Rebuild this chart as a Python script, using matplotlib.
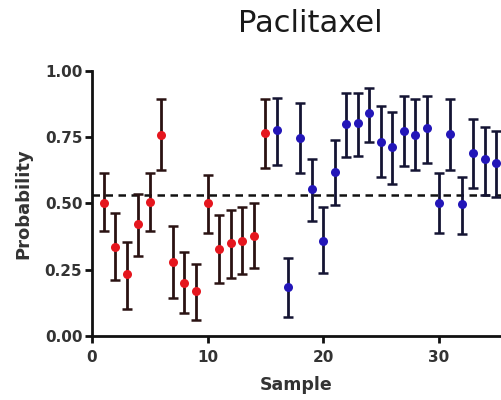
import matplotlib
matplotlib.use("Agg")
import matplotlib.pyplot as plt
import numpy as np

plt.rcParams['font.family'] = ['DejaVu Sans']

title = "Paclitaxel"
xlabel = "Sample"
ylabel = "Probability"
threshold = 0.53

red_x = [1, 2, 3, 4, 5, 6, 7, 8, 9, 10, 11, 12, 13, 14, 15]
red_y = [0.503, 0.337, 0.234, 0.422, 0.506, 0.758, 0.280, 0.201, 0.170, 0.500,
         0.328, 0.349, 0.359, 0.377, 0.766]
red_hi = [0.613, 0.465, 0.353, 0.535, 0.613, 0.892, 0.415, 0.318, 0.271, 0.606,
          0.456, 0.475, 0.485, 0.500, 0.892]
red_lo = [0.397, 0.211, 0.103, 0.302, 0.397, 0.626, 0.144, 0.085, 0.060, 0.389,
          0.201, 0.217, 0.234, 0.255, 0.632]

blue_x = [16, 17, 18, 19, 20, 21, 22, 23, 24, 25, 26, 27, 28, 29, 30, 31, 32, 33, 34, 35]
blue_y = [0.776, 0.186, 0.745, 0.553, 0.359, 0.619, 0.799, 0.802, 0.839, 0.732,
          0.711, 0.774, 0.758, 0.783, 0.503, 0.761, 0.497, 0.691, 0.666, 0.651]
blue_hi = [0.899, 0.293, 0.879, 0.666, 0.485, 0.739, 0.917, 0.917, 0.937, 0.867,
           0.845, 0.905, 0.892, 0.905, 0.613, 0.892, 0.598, 0.820, 0.789, 0.774]
blue_lo = [0.644, 0.073, 0.613, 0.435, 0.236, 0.494, 0.676, 0.678, 0.732, 0.600,
           0.573, 0.641, 0.626, 0.651, 0.389, 0.626, 0.384, 0.557, 0.531, 0.525]

xticks = [0, 10, 20, 30]
yticks = [0.00, 0.25, 0.50, 0.75, 1.00]
ytick_labels = ["0.00", "0.25", "0.50", "0.75", "1.00"]

fig = plt.figure(figsize=(5.01, 4.0), dpi=100)
ax = fig.add_axes([0.1836, 0.16, 0.8164, 0.663])

def draw(xs, ys, lo, hi, color, ecolor):
    ys = np.array(ys)
    yerr = np.vstack([ys - np.array(lo), np.array(hi) - ys])
    ax.errorbar(xs, ys, yerr=yerr, fmt='none', ecolor=ecolor,
                elinewidth=2, capsize=3.6, capthick=1.8, zorder=3)
    ax.plot(xs, ys, 'o', color=color, markersize=6.5, markeredgewidth=0, zorder=4)

ax.axhline(threshold, color='#111111', linestyle=(0, (3, 2.2)), linewidth=1.8, zorder=2)
draw(red_x, red_y, red_lo, red_hi, '#e5161e', '#2a1212')
draw(blue_x, blue_y, blue_lo, blue_hi, '#2316b8', '#141433')

ax.set_xlim(0, 35.4)
ax.set_ylim(0, 1.0)
ax.set_xticks(xticks)
ax.set_yticks(yticks)
ax.set_yticklabels(ytick_labels)
for s in ['top', 'right']:
    ax.spines[s].set_visible(False)
for s in ['left', 'bottom']:
    ax.spines[s].set_linewidth(2)
    ax.spines[s].set_color('#111111')
ax.tick_params(direction='out', length=5, width=2, color='#111111',
               labelsize=11, pad=2)
ax.tick_params(axis='x', pad=5)
for lab in ax.get_xticklabels() + ax.get_yticklabels():
    lab.set_fontweight('bold')
    lab.set_color('#333333')
ax.set_xlabel(xlabel, fontsize=12.5, fontweight='bold', color='#333333', labelpad=8)
ax.set_ylabel(ylabel, fontsize=13, fontweight='bold', color='#333333', labelpad=9)
fig.text(0.62, 0.94, title, fontsize=22, ha='center', va='center', color='#1a1a1a')

fig.savefig("out.png", dpi=100)
